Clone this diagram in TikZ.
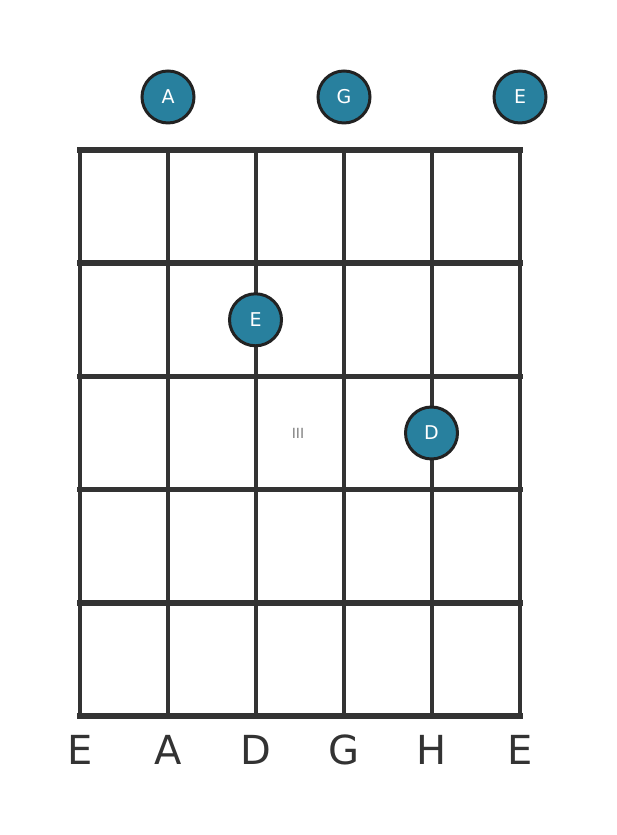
\documentclass[tikz,border=0pt]{standalone}
\usepackage{fontspec}
\setmainfont{DejaVu Sans}
\usetikzlibrary{positioning}
\definecolor{noteteal}{HTML}{28809E}
\definecolor{gridgray}{HTML}{333333}
\definecolor{rimgray}{HTML}{222222}

\begin{document}
\begin{tikzpicture}[x=1pt, y=1pt,
        notenode/.style={circle, draw=rimgray, fill=noteteal, line width=3pt, minimum size=52pt, inner sep=0pt, text=white, font=\fontsize{19}{19}\selectfont},
        stringlabel/.style={inner sep=0pt, text=gridgray, font=\fontsize{40}{40}\selectfont},
        fretlabel/.style={inner sep=0pt, text=gray, font=\fontsize{14}{14}\selectfont},
        stringline/.style={draw=gridgray, line width=3.5pt},
        fretline/.style={draw=gridgray, line width=5.5pt, line cap=rect},
        ]
        \useasboundingbox (0,0) rectangle (617,835);
        %Nodes
        \coordinate (t0) at (80,685);
        \coordinate [right=88pt of t0] (t1);
        \coordinate [right=88pt of t1] (t2);
        \coordinate [right=88pt of t2] (t3);
        \coordinate [right=88pt of t3] (t4);
        \coordinate [right=88pt of t4] (t5);
        \coordinate [below=566pt of t0] (b0);
        \coordinate [below=566pt of t1] (b1);
        \coordinate [below=566pt of t2] (b2);
        \coordinate [below=566pt of t3] (b3);
        \coordinate [below=566pt of t4] (b4);
        \coordinate [below=566pt of t5] (b5);
        \coordinate [below=113.2pt of t0] (f1l);
        \coordinate [below=113.2pt of f1l] (f2l);
        \coordinate [below=113.2pt of f2l] (f3l);
        \coordinate [below=113.2pt of f3l] (f4l);
        \coordinate [below=113.2pt of t5] (f1r);
        \coordinate [below=113.2pt of f1r] (f2r);
        \coordinate [below=113.2pt of f2r] (f3r);
        \coordinate [below=113.2pt of f3r] (f4r);

        \node[notenode] [above=25.5pt of t1] (o1) {A};
        \node[notenode] [above=25.5pt of t3] (o3) {G};
        \node[notenode] [above=25.5pt of t5] (o5) {E};

        \node[stringlabel] [below=19pt of b0] (s0) {E};
        \node[stringlabel] [below=19pt of b1] (s1) {A};
        \node[stringlabel] [below=19pt of b2] (s2) {D};
        \node[stringlabel] [below=19pt of b3] (s3) {G};
        \node[stringlabel] [below=19pt of b4] (s4) {H};
        \node[stringlabel] [below=19pt of b5] (s5) {E};

        %Lines
        \draw [stringline] (t0) -- (b0);
        \draw [stringline] (t1) -- (b1);
        \draw [stringline] (t2) -- (b2);
        \draw [stringline] (t3) -- (b3);
        \draw [stringline] (t4) -- (b4);
        \draw [stringline] (t5) -- (b5);
        \draw [fretline] (t0) -- (t5);
        \draw [fretline] (f1l) -- (f1r);
        \draw [fretline] (f2l) -- (f2r);
        \draw [fretline] (f3l) -- (f3r);
        \draw [fretline] (f4l) -- (f4r);
        \draw [fretline] (b0) -- (b5);

        \node[fretlabel] at (298,402) (pos) {III};
        \node[notenode] at (255.5,515.2) (n2) {E};
        \node[notenode] at (431.5,402) (n4) {D};
    \end{tikzpicture}
\end{document}
